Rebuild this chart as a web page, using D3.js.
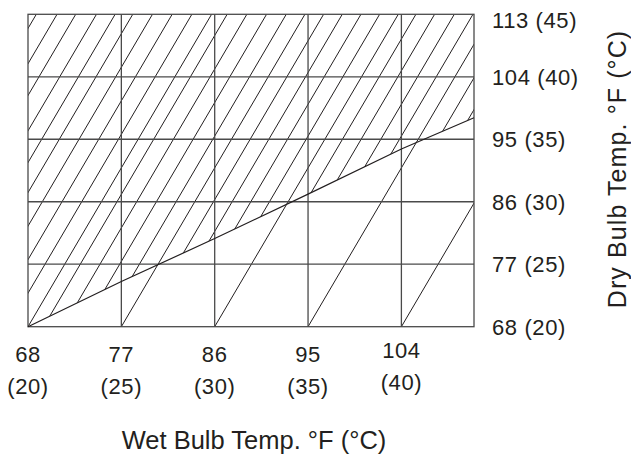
<!DOCTYPE html>
<html lang="en">
<head>
<meta charset="UTF-8">
<title>Wet Bulb / Dry Bulb</title>
<script src="https://d3js.org/d3.v7.min.js"></script>
<style>
    body { margin: 0; background: #fff; }
    .grid { fill: none; stroke: #4a4a4a; stroke-width: 1.3px; }
    .hatch { fill: none; stroke: #231f20; stroke-width: 1px; }
    .limit { fill: none; stroke: #231f20; stroke-width: 1.2px; }
    .lbl { font-family: "Liberation Sans", Arial, sans-serif; fill: #231f20; }
</style>
</head>
<body>
<div id="chart"></div>
<script>
// axis values (deg F) and the deg C shown in brackets
const wetTicks = [68, 77, 86, 95, 104];
const wetTicksC = [20, 25, 30, 35, 40];
const dryTicks = [68, 77, 86, 95, 104, 113];
const dryTicksC = [20, 25, 30, 35, 40, 45];

// boundary line of the hatched range
const limitWet = [68, 77, 86, 95, 104, 111];
const limitDry = [68, 74.5, 80.7, 87.1, 93.6, 98.1];

// slanted lines, given by their wet bulb value at dry bulb 68
const fullLines = [68, 77, 86, 95, 104];
const hatchLines = [51.1, 53.1, 54.9, 56.9, 58.7, 60.4, 62.3, 64.2, 66.1,
    69.5, 71.4, 73.3, 75.2, 78.8, 80.6, 82.4, 84.2,
    87.7, 89.5, 91.4, 93.2, 96.9, 98.7];
const slant = 17.7; // wet bulb shift of a slanted line from 68 to 113 dry bulb

const width = 631, height = 468;

const x = d3.scaleLinear().domain([68, 111]).range([28, 474]);
const y = d3.scaleLinear().domain([68, 113]).range([326.7, 14.3]);

const svg = d3.select("#chart").append("svg")
    .attr("width", width).attr("height", height);

const defs = svg.append("defs");
defs.append("clipPath").attr("id", "plotClip")
    .append("rect")
    .attr("x", x(68)).attr("y", y(113))
    .attr("width", x(111) - x(68)).attr("height", y(68) - y(113));

// region above the boundary line
const limitPts = limitWet.map((w, i) => [x(w), y(limitDry[i])]);
const abovePts = limitPts.concat([[x(111), y(113)], [x(68), y(113)]]);
defs.append("clipPath").attr("id", "aboveClip")
    .append("polygon")
    .attr("points", abovePts.map(p => p.join(",")).join(" "));

const slantLine = w0 => d3.line()([[x(w0), y(68)], [x(w0 + slant), y(113)]]);

// hatching
svg.append("g").attr("clip-path", "url(#aboveClip)")
    .selectAll("path").data(hatchLines).join("path")
    .attr("class", "hatch")
    .attr("d", slantLine);

svg.append("g").attr("clip-path", "url(#plotClip)")
    .selectAll("path").data(fullLines).join("path")
    .attr("class", "hatch")
    .attr("d", slantLine);

// grid
svg.append("g").selectAll("line").data(wetTicks.slice(1)).join("line")
    .attr("class", "grid")
    .attr("x1", d => x(d)).attr("x2", d => x(d))
    .attr("y1", y(68)).attr("y2", y(113));

svg.append("g").selectAll("line").data(dryTicks.slice(1, -1)).join("line")
    .attr("class", "grid")
    .attr("x1", x(68)).attr("x2", x(111))
    .attr("y1", d => y(d)).attr("y2", d => y(d));

svg.append("rect").attr("class", "grid")
    .attr("x", x(68)).attr("y", y(113))
    .attr("width", x(111) - x(68)).attr("height", y(68) - y(113));

// boundary
svg.append("path").attr("class", "limit")
    .attr("d", d3.line()(limitPts));

// bottom labels (the last pair sits a little higher in the original)
const lift = (d, i) => i === wetTicks.length - 1 ? 4 : 0;
const xl = svg.append("g").attr("class", "lbl").attr("font-size", 22)
    .attr("letter-spacing", "0.6px")
    .attr("text-anchor", "middle");
xl.selectAll("text.f").data(wetTicks).join("text").attr("class", "f")
    .attr("x", d => x(d)).attr("y", (d, i) => 362 - lift(d, i))
    .text(d => d);
xl.selectAll("text.c").data(wetTicks).join("text").attr("class", "c")
    .attr("x", d => x(d)).attr("y", (d, i) => 394 - lift(d, i))
    .text((d, i) => "(" + wetTicksC[i] + ")");

// right labels
svg.append("g").attr("class", "lbl").attr("font-size", 22)
    .attr("letter-spacing", "0.6px")
    .selectAll("text").data(dryTicks).join("text")
    .attr("x", 492)
    .attr("y", d => Math.max(y(d), y(113) + 6))
    .attr("dy", "0.36em")
    .text((d, i) => d + " (" + dryTicksC[i] + ")");

// titles
svg.append("text").attr("class", "lbl").attr("font-size", 25.5)
    .attr("text-anchor", "middle")
    .attr("x", 254).attr("y", 449)
    .text("Wet Bulb Temp. °F (°C)");

svg.append("text").attr("class", "lbl").attr("font-size", 25)
    .attr("letter-spacing", "1.1px")
    .attr("text-anchor", "middle")
    .attr("transform", "translate(626,169) rotate(-90)")
    .text("Dry Bulb Temp. °F (°C)");
</script>
</body>
</html>
